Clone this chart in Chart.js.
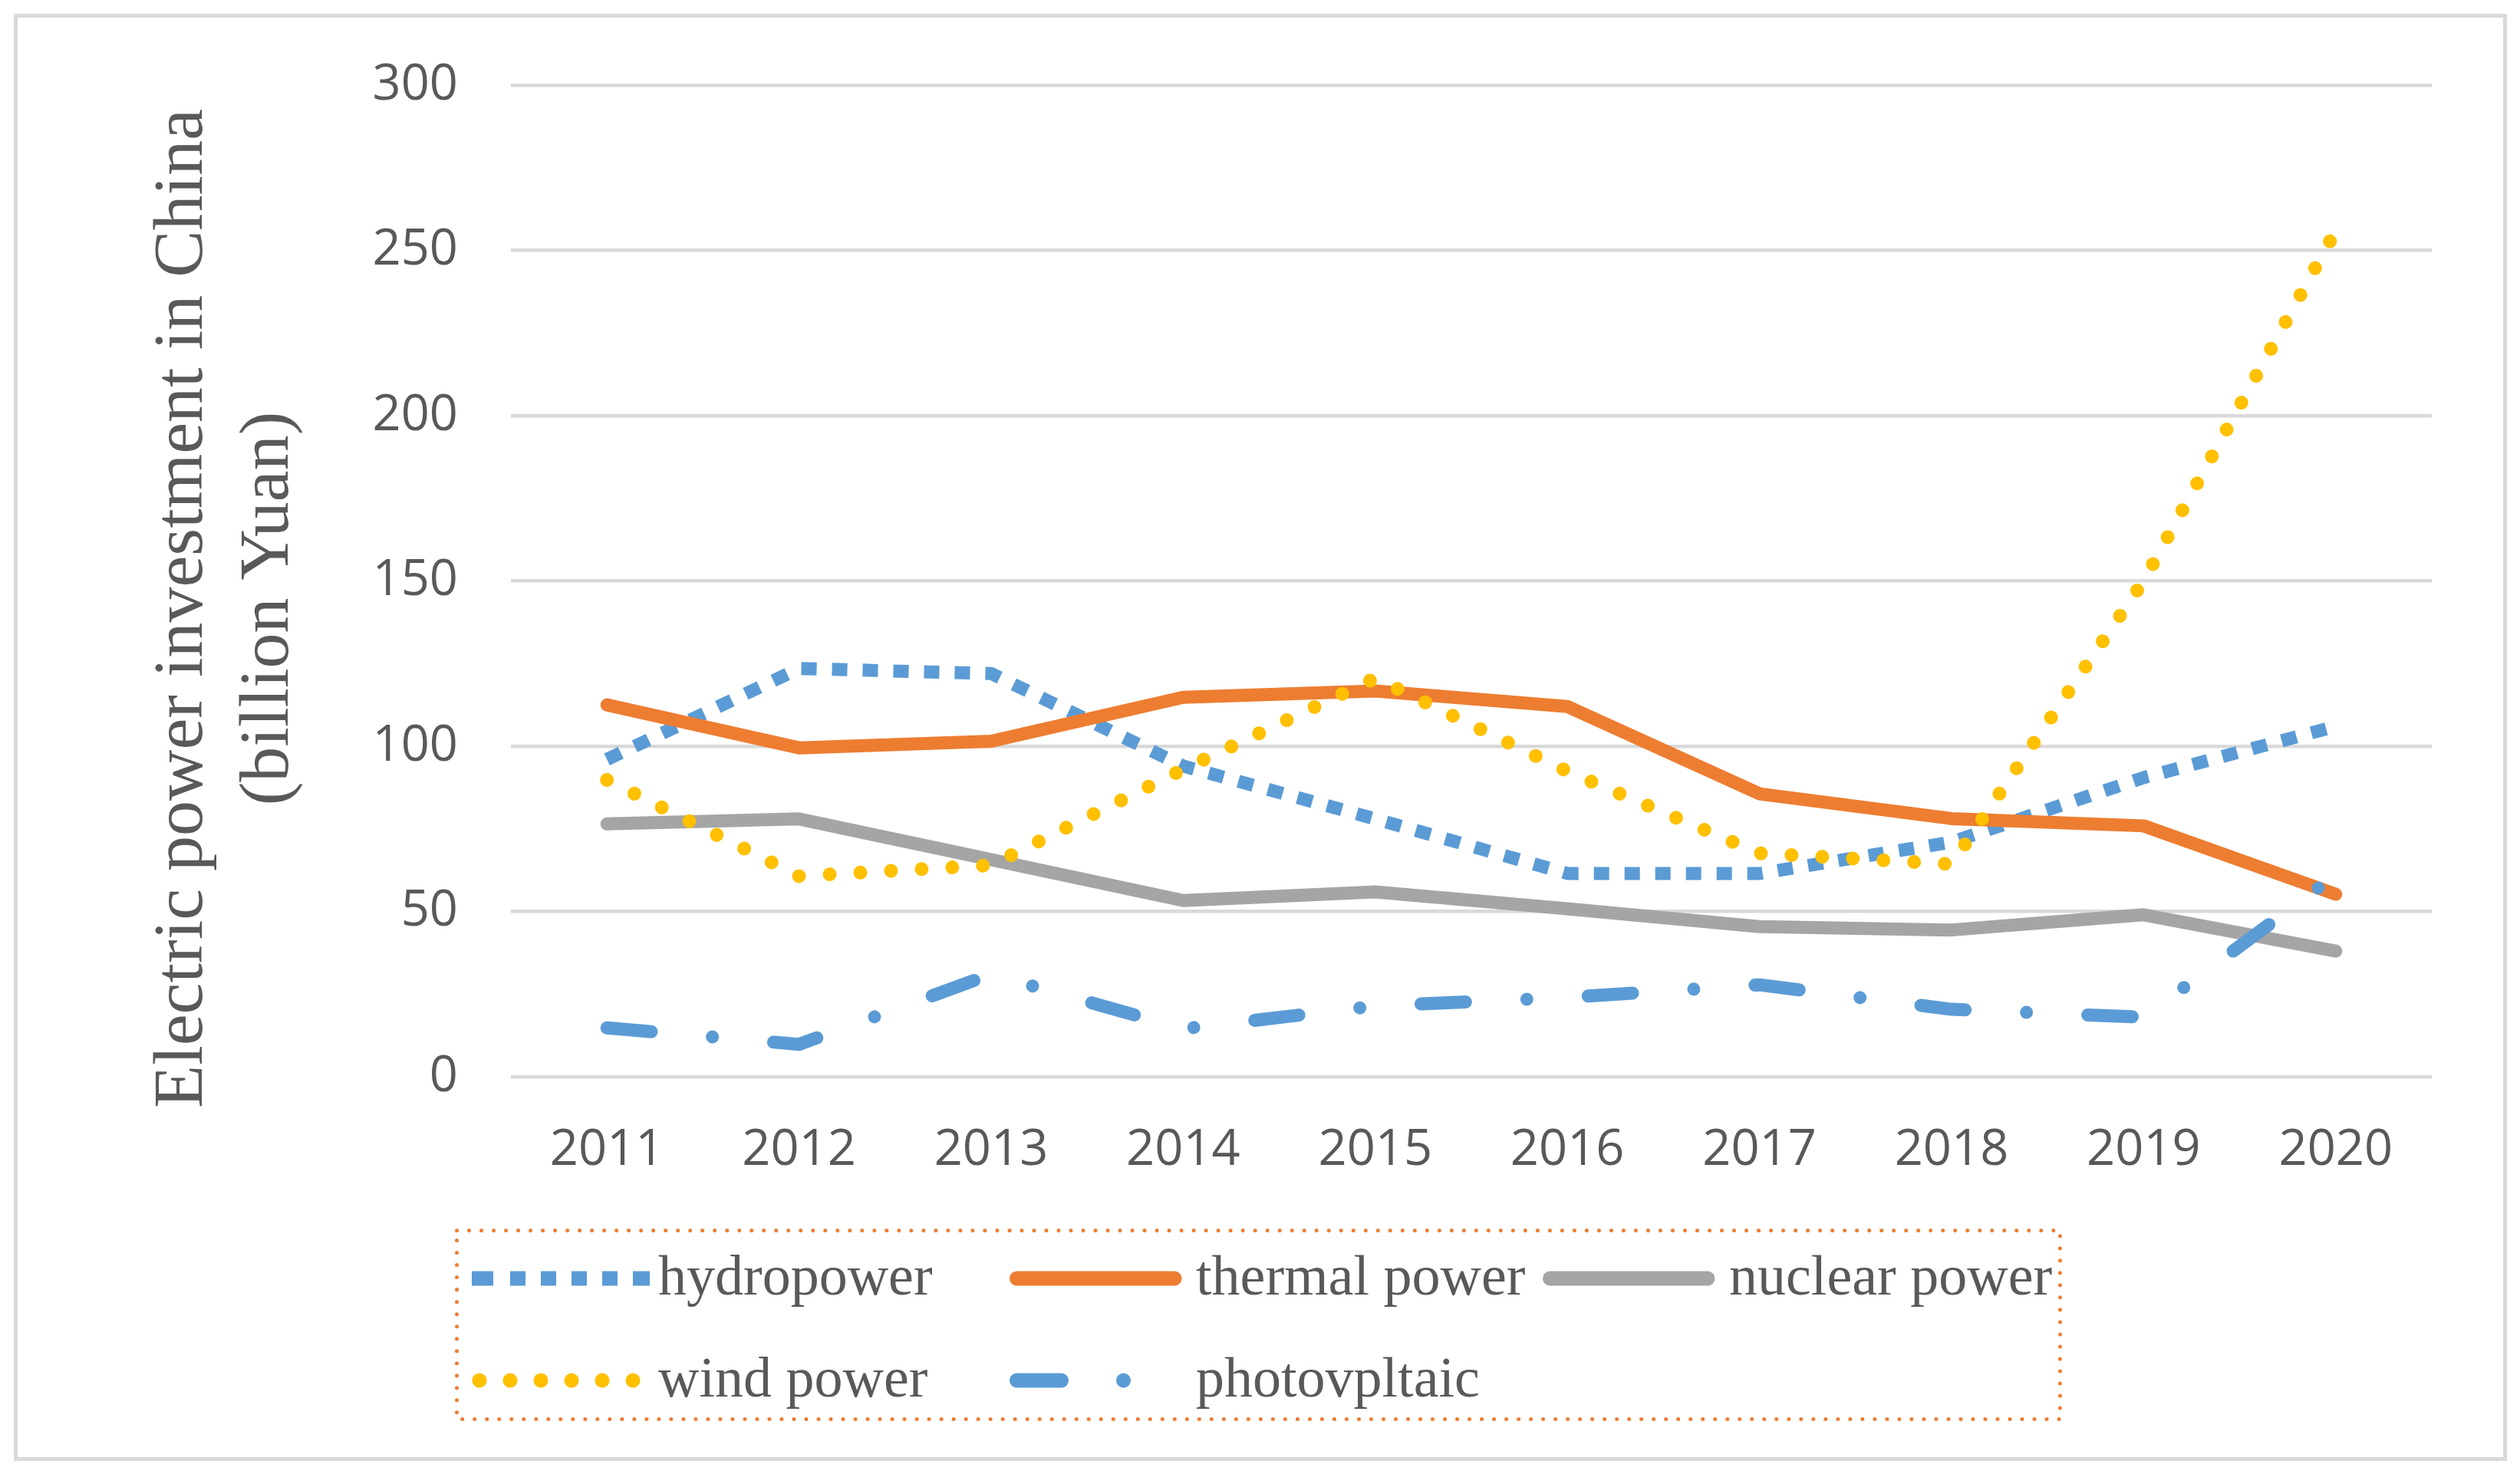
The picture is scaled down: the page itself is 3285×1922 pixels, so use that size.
<!DOCTYPE html>
<html>
<head>
<meta charset="utf-8">
<script src="https://cdn.jsdelivr.net/npm/chart.js@4.4.1/dist/chart.umd.min.js"></script>
<style>
  html, body { margin: 0; padding: 0; background: #ffffff; }
  body { width: 3285px; height: 1922px; position: relative; overflow: hidden; }
  #frame { position: absolute; left: 18px; top: 18px; width: 3250px; height: 1887px;
           box-sizing: border-box; border: 5px solid #D9D9D9; pointer-events: none; }
  #chart { position: absolute; left: 0; top: 0; }
  #legend { position: absolute; left: 593px; top: 1602px; width: 2095px; height: 251px; }
  #legend svg.border { position: absolute; left: 0; top: 0; }
  .item-sample { position: absolute; }
  .item-text { position: absolute; font-family: "Liberation Serif", "Times New Roman", serif;
               font-size: 74px; line-height: 74px; color: #595959; white-space: nowrap; }
</style>
</head>
<body>
<canvas id="chart" width="3285" height="1922"></canvas>
<div id="frame"></div>
<div id="legend"></div>
<script>
// ---- data ----
const years = ['2011', '2012', '2013', '2014', '2015', '2016', '2017', '2018', '2019', '2020'];
const hydropower   = [96, 123.5, 122, 94, 78, 61.5, 61.5, 71, 90.5, 106];
const thermalPower = [112.5, 99.5, 101.5, 114.8, 116.7, 112, 85.6, 78.1, 75.9, 55.2];
const nuclearPower = [76.5, 78, 65.7, 53.3, 55.9, 50.8, 45.4, 44.4, 49, 38];
const windPower    = [89.8, 60.7, 64, 93, 120.6, 92.4, 67.6, 64.3, 150, 256];
const photovoltaic = [14.8, 9.8, 31, 14.5, 21.4, 24, 27.8, 20.4, 18, 61];
const seriesNames  = ['hydropower', 'thermal power', 'nuclear power', 'wind power', 'photovpltaic'];
const yTickValues  = [0, 50, 100, 150, 200, 250, 300];
const yAxisTitle   = ['Electric power investment in China', '(billion Yuan)'];

// ---- styles ----
const BLUE = '#5B9BD5', ORANGE = '#ED7D31', GRAY = '#A5A5A5', GOLD = '#FFC000', TEXT = '#595959';
const seriesValues = [hydropower, thermalPower, nuclearPower, windPower, photovoltaic];
const seriesStyle = [
  { color: BLUE,   width: 17, dash: [20, 20],           cap: 'butt',  order: 5 },
  { color: ORANGE, width: 17, dash: [],                 cap: 'round', order: 4 },
  { color: GRAY,   width: 17, dash: [],                 cap: 'round', order: 3 },
  { color: GOLD,   width: 18, dash: [0.01, 40],         cap: 'round', order: 2 },
  { color: BLUE,   width: 17, dash: [58, 80, 0.01, 80], cap: 'round', order: 1 }
];

const datasets = seriesNames.map((name, i) => ({
  label: name,
  data: seriesValues[i],
  borderColor: seriesStyle[i].color,
  backgroundColor: seriesStyle[i].color,
  borderWidth: seriesStyle[i].width,
  borderDash: seriesStyle[i].dash,
  borderCapStyle: seriesStyle[i].cap,
  borderJoinStyle: 'round',
  pointRadius: 0,
  pointHoverRadius: 0,
  tension: 0,
  fill: false,
  order: seriesStyle[i].order
}));

// shift the y-axis title a little downward, as in the original
const titleShift = {
  id: 'titleShift',
  beforeDraw(chart) {
    const s = chart.scales.y;
    if (s && !s._titlePatched) {
      const orig = s.drawTitle.bind(s);
      s.drawTitle = function () {
        const c = this.ctx;
        c.save();
        c.translate(0, 36);
        orig();
        c.restore();
      };
      s._titlePatched = true;
    }
  }
};

new Chart(document.getElementById('chart').getContext('2d'), {
  type: 'line',
  data: { labels: years, datasets: datasets },
  plugins: [titleShift],
  options: {
    responsive: false,
    animation: false,
    devicePixelRatio: 1,
    layout: { padding: { left: 120, right: 115, top: 111, bottom: 368 } },
    plugins: { legend: { display: false }, tooltip: { enabled: false }, title: { display: false } },
    scales: {
      x: {
        type: 'category',
        offset: true,
        grid: { display: false, drawTicks: false },
        border: { display: false },
        ticks: { color: TEXT, padding: 57, maxRotation: 0, autoSkip: false,
                 font: { family: 'Open Sans', size: 65 } },
        afterFit(scale) { scale.height = 150; }
      },
      y: {
        min: yTickValues[0],
        max: yTickValues[yTickValues.length - 1],
        afterBuildTicks(scale) { scale.ticks = yTickValues.map(v => ({ value: v })); },
        grid: { color: '#D9D9D9', lineWidth: 4.5, drawTicks: false },
        border: { display: false },
        ticks: { color: TEXT, padding: 69, font: { family: 'Open Sans', size: 65 } },
        title: {
          display: true,
          text: yAxisTitle,
          color: TEXT,
          font: { family: 'Liberation Serif', size: 92, lineHeight: 1.217 },
          padding: { top: 63, bottom: 0 }
        },
        afterFit(scale) { scale.width = 546; }
      }
    }
  }
});

// ---- legend (HTML, laid out like the original's grid) ----
(function buildLegend() {
  const legend = document.getElementById('legend');
  const W = 2095, H = 251;
  const NS = 'http://www.w3.org/2000/svg';
  const border = document.createElementNS(NS, 'svg');
  border.setAttribute('class', 'border');
  border.setAttribute('width', W);
  border.setAttribute('height', H);
  const rect = document.createElementNS(NS, 'rect');
  rect.setAttribute('x', 2.5); rect.setAttribute('y', 2.5);
  rect.setAttribute('width', W - 5); rect.setAttribute('height', H - 5);
  rect.setAttribute('fill', 'none');
  rect.setAttribute('stroke', ORANGE);
  rect.setAttribute('stroke-width', 5);
  rect.setAttribute('stroke-dasharray', '0.01 16');
  rect.setAttribute('stroke-linecap', 'round');
  border.appendChild(rect);
  legend.appendChild(border);

  const colX = [22, 723, 1418];      // sample left edge, relative to legend box
  const rowY = [65, 198];            // sample centre line
  const textOffset = 243;
  const sampleDefs = [
    { x1: 0,   x2: 232, dash: '28 22 20 20 20 20 20 20 20 20 22 100', cap: 'butt' },
    { x1: 9.5, x2: 215, dash: '', cap: 'round' },
    { x1: 9.5, x2: 215, dash: '', cap: 'round' },
    { x1: 10,  x2: 211, dash: '0.01 40', cap: 'round' },
    { x1: 9.5, x2: 160, dash: '58 81 0.01 300', cap: 'round' }
  ];
  seriesNames.forEach((name, i) => {
    const col = i < 3 ? i : i - 3;
    const row = i < 3 ? 0 : 1;
    const sx = colX[col], cy = rowY[row];
    const svg = document.createElementNS(NS, 'svg');
    svg.setAttribute('class', 'item-sample');
    svg.setAttribute('width', 240);
    svg.setAttribute('height', 40);
    svg.style.left = sx + 'px';
    svg.style.top = (cy - 20) + 'px';
    const line = document.createElementNS(NS, 'line');
    const d = sampleDefs[i];
    line.setAttribute('x1', d.x1); line.setAttribute('x2', d.x2);
    line.setAttribute('y1', 20); line.setAttribute('y2', 20);
    line.setAttribute('stroke', seriesStyle[i].color);
    line.setAttribute('stroke-width', 19);
    line.setAttribute('stroke-linecap', d.cap);
    if (d.dash) line.setAttribute('stroke-dasharray', d.dash);
    svg.appendChild(line);
    legend.appendChild(svg);

    const t = document.createElement('div');
    t.className = 'item-text';
    t.textContent = name;
    t.style.left = (sx + textOffset) + 'px';
    t.style.top = (cy + 21 - 62) + 'px';
    legend.appendChild(t);
  });
})();
</script>
</body>
</html>
